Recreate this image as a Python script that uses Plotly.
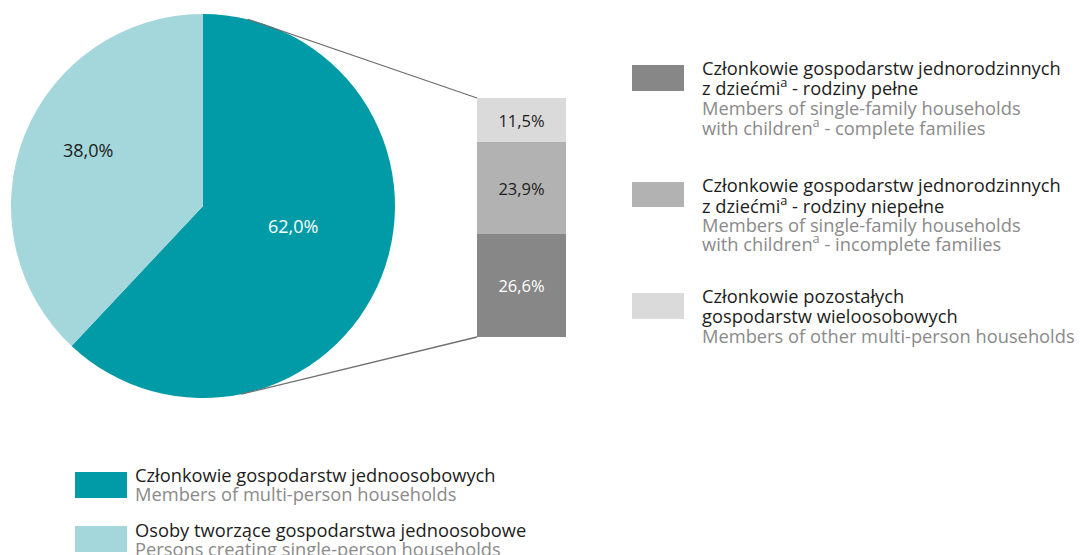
import math
import plotly.graph_objects as go

W, H = 1082, 555

# ---- data ----
pie_labels = ["Członkowie gospodarstw jednoosobowych", "Osoby tworzące gospodarstwa jednoosobowe"]
pie_values = [62.0, 38.0]
pie_colors = ["#009BA6", "#A3D7DB"]
pie_text_colors = ["#FFFFFF", "#1D1D1B"]

bar_labels = ["rodziny pełne", "rodziny niepełne", "pozostałe"]
bar_values = [26.6, 23.9, 11.5]
bar_colors = ["#878787", "#B2B2B2", "#DADADA"]
bar_text_colors = ["#FFFFFF", "#1D1D1B", "#1D1D1B"]

right_legend = [
    (["Członkowie gospodarstw jednorodzinnych", "z dziećmi<sup>a</sup> - rodziny pełne"],
     ["Members of single-family households", "with children<sup>a</sup> - complete families"]),
    (["Członkowie gospodarstw jednorodzinnych", "z dziećmi<sup>a</sup> - rodziny niepełne"],
     ["Members of single-family households", "with children<sup>a</sup> - incomplete families"]),
    (["Członkowie pozostałych", "gospodarstw wieloosobowych"],
     ["Members of other multi-person households"]),
]
bottom_legend = [
    (["Członkowie gospodarstw jednoosobowych"], ["Members of multi-person households"]),
    (["Osoby tworzące gospodarstwa jednoosobowe"], ["Persons creating single-person households"]),
]

FONT = "Open Sans"
DARK = "#1D1D1B"
GREY = "#8A8A8A"
LEG_SIZE = 18.3


def fmt(v):
    return f"{v:.1f}%".replace(".", ",")


def px(x):
    return x / W


def py(y):
    return 1 - y / H


# ---- geometry ----
pie_l, pie_r, pie_t, pie_b = 11, 395, 14, 398
bar_l, bar_r, bar_t, bar_b = 477, 566, 98, 337

fig = go.Figure()

fig.add_trace(go.Pie(
    labels=pie_labels, values=pie_values, sort=False, direction="clockwise", rotation=0,
    marker=dict(colors=pie_colors, line=dict(width=0)),
    textinfo="none", hoverinfo="label+value", showlegend=False,
    domain=dict(x=[px(pie_l), px(pie_r)], y=[py(pie_b), py(pie_t)]),
))

for lab, val, col, tcol in zip(bar_labels, bar_values, bar_colors, bar_text_colors):
    fig.add_trace(go.Bar(
        x=[0], y=[val], name=lab, marker=dict(color=col, line=dict(width=0)),
        text=[fmt(val)], textposition="inside", insidetextanchor="middle",
        textfont=dict(family=FONT, size=16.5, color=tcol), showlegend=False,
        xaxis="x", yaxis="y",
    ))

total = sum(bar_values)
fig.update_layout(
    width=W, height=H, autosize=False,
    margin=dict(l=0, r=0, t=0, b=0),
    paper_bgcolor="white", plot_bgcolor="rgba(0,0,0,0)",
    barmode="stack", bargap=0,
    font=dict(family=FONT, color=DARK),
    xaxis=dict(domain=[px(bar_l), px(bar_r)], range=[-0.5, 0.5], visible=False, fixedrange=True),
    yaxis=dict(domain=[py(bar_b), py(bar_t)], range=[0, total], visible=False, fixedrange=True),
)

# connector lines from pie rim to bar corners
cx, cy = (pie_l + pie_r) / 2, (pie_t + pie_b) / 2
rad = (pie_r - pie_l) / 2
shapes = []
for ang, (ex, ey) in [(13.5, (bar_l, bar_t)), (168.6, (bar_l, bar_b))]:
    a = math.radians(ang)
    sx, sy = cx + rad * math.sin(a), cy - rad * math.cos(a)
    shapes.append(dict(type="line", xref="paper", yref="paper",
                       x0=px(sx), y0=py(sy), x1=px(ex), y1=py(ey),
                       line=dict(color="#6F6F6F", width=1.3)))

annotations = []
# pie value labels
for val, tcol, (lx, ly) in zip(pie_values, pie_text_colors, [(293, 226), (88, 150)]):
    annotations.append(dict(xref="paper", yref="paper", x=px(lx), y=py(ly), text=fmt(val),
                            showarrow=False, xanchor="center", yanchor="middle",
                            font=dict(family=FONT, size=18, color=tcol)))


def add_legend(items, colors, rects, line_ys, rx0, rx1, tx):
    for (pl, en), col, (ry0, ry1), ys in zip(items, colors, rects, line_ys):
        shapes.append(dict(type="rect", xref="paper", yref="paper",
                           x0=px(rx0), x1=px(rx1), y0=py(ry1), y1=py(ry0),
                           fillcolor=col, line=dict(width=0)))
        lines = [(t, DARK) for t in pl] + [(t, GREY) for t in en]
        for (t, c), yy in zip(lines, ys):
            annotations.append(dict(xref="paper", yref="paper", x=px(tx), y=py(yy), text=t,
                                    showarrow=False, xanchor="left", yanchor="middle",
                                    borderpad=0,
                                    font=dict(family=FONT, size=LEG_SIZE, color=c)))


add_legend(right_legend, bar_colors, [(65, 91), (182, 207), (293, 319)],
           [[67, 87, 107, 126], [185, 204, 224, 243], [295, 315, 335]], 632, 684, 701)
add_legend(bottom_legend, pie_colors, [(472, 498), (526, 552)],
           [[474, 493], [529, 548]], 75, 127, 134)

fig.update_layout(shapes=shapes, annotations=annotations)
fig.write_html("out.html", config={"displayModeBar": False},
               post_script="document.body.style.margin='0px';")
